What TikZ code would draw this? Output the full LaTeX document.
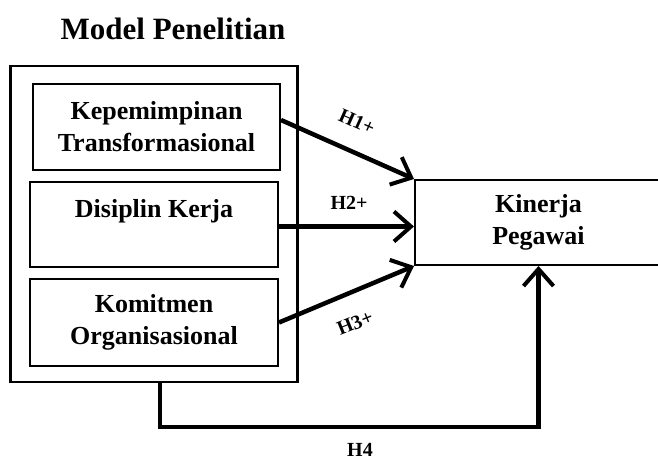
\documentclass[tikz,border=0pt]{standalone}
\usepackage{fontspec}
\setmainfont{Liberation Serif}
\usetikzlibrary{arrows.meta}
\tikzset{
  varbox/.style={draw, line width=2pt, align=center, inner sep=0pt,
    font=\fontsize{26}{32}\selectfont\bfseries},
  hyp/.style={-{Straight Barb[length=17pt,width=30pt,line width=4pt]}, line width=4.5pt},
  hlabel/.style={font=\fontsize{20}{24}\selectfont\bfseries, inner sep=0pt}
}
\begin{document}
\begin{tikzpicture}[x=1pt,y=-1pt]
  \useasboundingbox (0,0) rectangle (658,462);
  \node (title) at (173,40) [anchor=base, inner sep=0pt, font=\fontsize{31}{37}\selectfont\bfseries] {Model Penelitian};
  \node (model) at (154,224) [draw, line width=2.5pt, minimum width=287pt, minimum height=316pt] {};
  \node (kepemimpinan) at (156.5,127) [varbox, minimum width=247pt, minimum height=86pt] {Kepemimpinan\\Transformasional};
  \node (disiplin) at (154,224.5) [varbox, minimum width=248pt, minimum height=85pt, text depth=32pt] {Disiplin Kerja};
  \node (komitmen) at (154,322.5) [varbox, minimum width=248pt, minimum height=87pt] {Komitmen\\Organisasional};
  \node (kinerja) at (538.5,222.5) [varbox, minimum width=247pt, minimum height=85pt] {Kinerja\\Pegawai};
  % hipotesis
  \draw[hyp] ([yshift=7pt]kepemimpinan.east) -- (kinerja.north west);
  \draw[hyp] ([yshift=-2pt]disiplin.east) -- ([yshift=-4pt]kinerja.west);
  \draw[hyp] (komitmen.east) -- (kinerja.south west);
  \draw[hyp] ([xshift=6pt]model.south) |- (360,427) -| (kinerja.south);
  \node (h1) at (357,122) [hlabel, rotate=-24] {H1+};
  \node (h2) at (349,203) [hlabel] {H2+};
  \node (h3) at (355,323) [hlabel, rotate=22] {H3+};
  \node (h4) at (360,450) [hlabel] {H4};
\end{tikzpicture}
\end{document}
